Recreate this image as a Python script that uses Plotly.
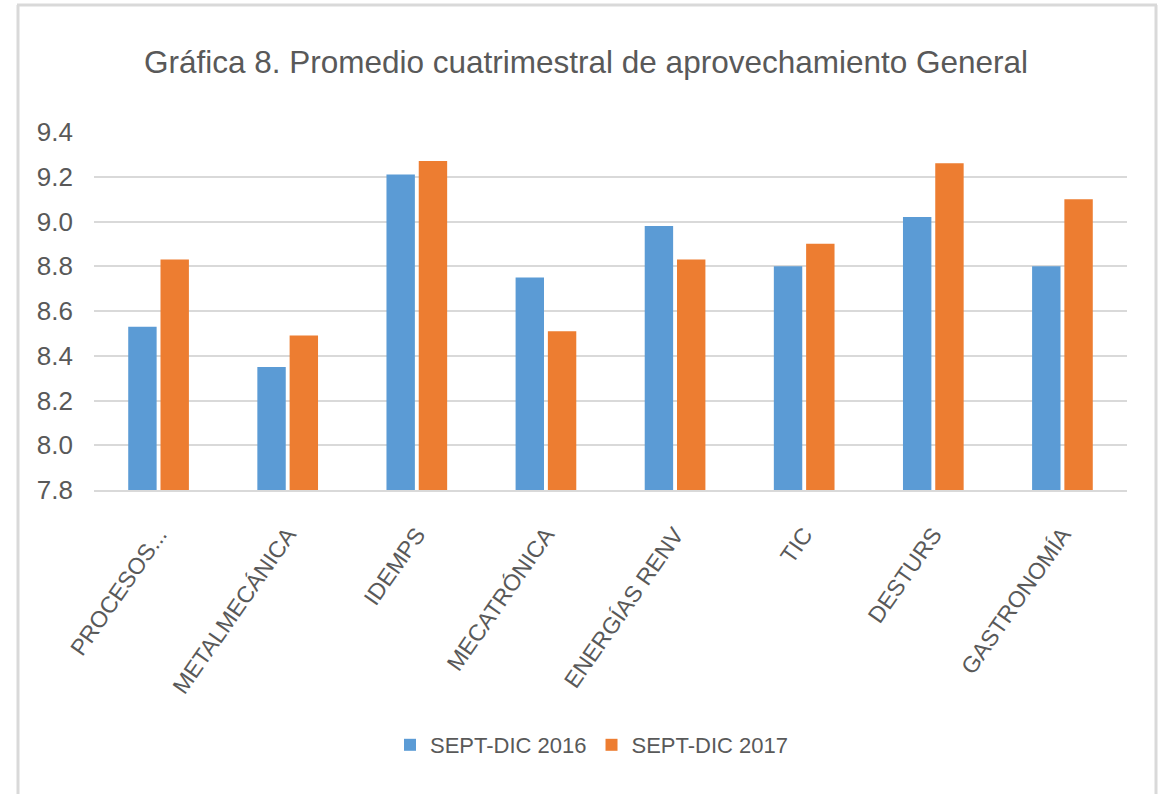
import plotly.graph_objects as go

categories = ["PROCESOS...", "METALMECÁNICA", "IDEMPS", "MECATRÓNICA",
              "ENERGÍAS RENV", "TIC", "DESTURS", "GASTRONOMÍA"]
sept_dic_2016 = [8.53, 8.35, 9.21, 8.75, 8.98, 8.80, 9.02, 8.80]
sept_dic_2017 = [8.83, 8.49, 9.27, 8.51, 8.83, 8.90, 9.26, 9.10]
series_names = ["SEPT-DIC 2016", "SEPT-DIC 2017"]
y_ticks = [7.8, 8.0, 8.2, 8.4, 8.6, 8.8, 9.0, 9.2, 9.4]
y_base = 7.8

FONT = "Liberation Sans Narrow, Arial Narrow, Liberation Sans, sans-serif"
TXT = "#595959"
GRID = "#D9D9D9"

fig = go.Figure()
fig.add_trace(go.Bar(x=categories, y=[v - y_base for v in sept_dic_2016],
                     base=y_base, name=series_names[0],
                     marker=dict(color="#5B9BD5", line=dict(width=0)),
                     customdata=sept_dic_2016, hovertemplate="%{x}: %{customdata}"))
fig.add_trace(go.Bar(x=categories, y=[v - y_base for v in sept_dic_2017],
                     base=y_base, name=series_names[1],
                     marker=dict(color="#ED7D31", line=dict(width=0)),
                     customdata=sept_dic_2017, hovertemplate="%{x}: %{customdata}"))

L, R, T, B = 94, 31, 132, 304
W, H = 1158, 794
pw, ph = W - L - R, H - T - B

def px_x(p):
    return (p - L) / pw

def px_y(p):
    return (H - B - p) / ph

fig.update_layout(
    width=W, height=H,
    margin=dict(l=L, r=R, t=T, b=B),
    paper_bgcolor="white", plot_bgcolor="white",
    font=dict(family=FONT, color=TXT),
    title=dict(text="Gráfica 8. Promedio cuatrimestral de aprovechamiento General",
               x=586 / W, xref="container", xanchor="center",
               y=1 - 62 / H, yref="container", yanchor="middle",
               font=dict(family=FONT, size=31.5, color=TXT)),
    barmode="group", bargap=0.5, bargroupgap=0.12,
    showlegend=True,
    legend=dict(orientation="h", x=px_x(592), xanchor="center",
                y=px_y(745), yanchor="middle",
                font=dict(family=FONT, size=22, color=TXT),
                itemwidth=30, traceorder="normal"),
    xaxis=dict(tickangle=-55, tickfont=dict(family=FONT, size=23, color=TXT),
               showline=True, linecolor=GRID, linewidth=2,
               showgrid=False, ticks="", ticklabelstandoff=20),
    yaxis=dict(range=[7.8, 9.4], tickvals=y_ticks,
               ticktext=[f"{v:.1f}" for v in y_ticks],
               tickfont=dict(family=FONT, size=26, color=TXT),
               showgrid=True, gridcolor=GRID, gridwidth=2,
               zeroline=False, showline=False, ticks="",
               ticklabelstandoff=20),
    shapes=[
        dict(type="line", xref="paper", yref="paper",
             x0=px_x(18), x1=px_x(18), y0=px_y(5), y1=px_y(800),
             line=dict(color=GRID, width=3)),
        dict(type="line", xref="paper", yref="paper",
             x0=px_x(17), x1=px_x(1157), y0=px_y(5), y1=px_y(5),
             line=dict(color=GRID, width=3)),
        dict(type="line", xref="paper", yref="paper",
             x0=px_x(1156), x1=px_x(1156), y0=px_y(5), y1=px_y(800),
             line=dict(color=GRID, width=3)),
    ],
)

fig.write_html("out.html", config={"displayModeBar": False},
               post_script="document.body.style.margin='0px';document.body.style.overflow='hidden';")
